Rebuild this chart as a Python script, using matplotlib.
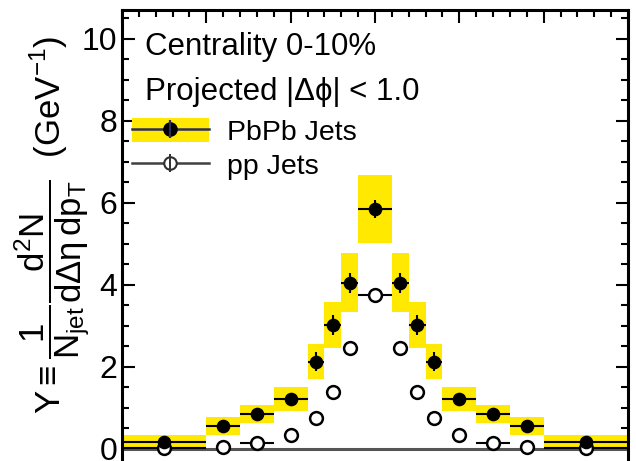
import numpy as np
import matplotlib
matplotlib.use('Agg')
import matplotlib.pyplot as plt
from matplotlib.patches import Patch
from matplotlib.lines import Line2D

plt.rcParams['font.family'] = ['Liberation Sans', 'DejaVu Sans']
plt.rcParams['mathtext.fontset'] = 'custom'
plt.rcParams['mathtext.rm'] = 'Liberation Sans'
plt.rcParams['mathtext.it'] = 'Liberation Sans'
plt.rcParams['mathtext.bf'] = 'Liberation Sans:bold'

# delta-eta bin edges and yields
edges = [-1.5, -1.0, -0.8, -0.6, -0.4, -0.3, -0.2, -0.1, 0.1,
         0.2, 0.3, 0.4, 0.6, 0.8, 1.0, 1.5]
pbpb = [0.16, 0.56, 0.85, 1.22, 2.13, 3.02, 4.05, 5.85,
        4.05, 3.02, 2.13, 1.22, 0.85, 0.56, 0.16]
pbpb_stat = [0.08, 0.10, 0.10, 0.12, 0.23, 0.24, 0.24, 0.23,
             0.24, 0.24, 0.23, 0.12, 0.10, 0.10, 0.08]
pbpb_sys = [0.19, 0.22, 0.22, 0.29, 0.43, 0.57, 0.72, 0.83,
            0.72, 0.57, 0.43, 0.29, 0.22, 0.22, 0.19]
pp = [0.02, 0.05, 0.14, 0.34, 0.76, 1.38, 2.46, 3.76,
      2.46, 1.38, 0.76, 0.34, 0.14, 0.05, 0.02]

YELLOW = '#FFE900'

edges = np.array(edges)
centers = 0.5 * (edges[1:] + edges[:-1])
halfw = 0.5 * (edges[1:] - edges[:-1])
pbpb = np.array(pbpb)
pbpb_sys = np.array(pbpb_sys)
pp_xerr = np.where(halfw >= 0.1, halfw, 0.0)

fig = plt.figure(figsize=(6.36, 4.61), dpi=100)
ax = fig.add_axes([0.1918, -0.0184, 0.7956, 0.9967])

# systematic boxes
ax.bar(centers, 2 * pbpb_sys, bottom=pbpb - pbpb_sys, width=2 * halfw,
       color=YELLOW, edgecolor='none', zorder=1)
ax.axhline(0, color='#555555', lw=2.2, zorder=2)

ax.errorbar(centers, pp, xerr=pp_xerr, fmt='o', ms=9.2, mfc='white',
            mec='black', mew=1.8, ecolor='black', elinewidth=1.5,
            capsize=0, zorder=3)
ax.errorbar(centers, pbpb, xerr=halfw, yerr=pbpb_stat, fmt='o', ms=8.8,
            color='black', elinewidth=1.5, capsize=0, zorder=4)

ax.set_xlim(-1.5, 1.5)
ax.set_ylim(-0.5, 10.7)
ax.set_yticks([0, 2, 4, 6, 8, 10])
ax.set_yticks(np.arange(0, 10.6, 0.5), minor=True)
ax.set_xticks(np.arange(-1.5, 1.51, 0.5))
ax.set_xticks(np.arange(-1.5, 1.51, 0.1), minor=True)
ax.tick_params(which='both', direction='in', top=True, right=True,
               bottom=False, labelbottom=False, width=1.5)
ax.tick_params(which='major', length=9, labelsize=23, pad=3.5)
ax.tick_params(which='minor', length=5)
for sp in ax.spines.values():
    sp.set_linewidth(2.2)
ax.spines['bottom'].set_visible(False)

ax.set_ylabel(r'$\mathrm{Y} \equiv \dfrac{1}{\mathrm{N_{jet}}}'
              r'\dfrac{\mathrm{d^{2}N}}{\mathrm{d\Delta\eta\,dp_{T}}}$'
              r'  (GeV$^{-1}$)', fontsize=25)
ax.yaxis.set_label_coords(-0.136, 0.532)
ax.yaxis.label.set_va('center')

ax.text(0.0455, 0.902, 'Centrality 0-10%', transform=ax.transAxes,
        fontsize=22.5, va='baseline')
ax.text(0.0455, 0.804, 'Projected |\u0394\u03d5| < 1.0',
        transform=ax.transAxes, fontsize=22.5, va='baseline')

h_pbpb = (Patch(facecolor=YELLOW, edgecolor='none'),
          Line2D([], [], color='#2d2d5a', lw=1.8),
          Line2D([], [], ls='none', marker='o', ms=9.5, color='black'),
          Line2D([], [], ls='none', marker='|', ms=13, mew=1.6,
                 color='#2d2d5a'))
h_pp = (Line2D([], [], color='#404040', lw=1.8),
        Line2D([], [], ls='none', marker='o', ms=9, mfc='white',
               mec='#303030', mew=1.5),
        Line2D([], [], ls='none', marker='|', ms=13, mew=1.4,
               color='#303030'))
ax.legend([h_pbpb, h_pp], ['PbPb Jets', 'pp Jets'], loc='upper left',
          bbox_to_anchor=(132 / 636, 1 - 118 / 461),
          bbox_transform=fig.transFigure, frameon=False, fontsize=20.5,
          borderpad=0, borderaxespad=0, handlelength=2.7,
          handleheight=0.9, handletextpad=0.62, labelspacing=0.22)

fig.savefig('out.png', dpi=100)
